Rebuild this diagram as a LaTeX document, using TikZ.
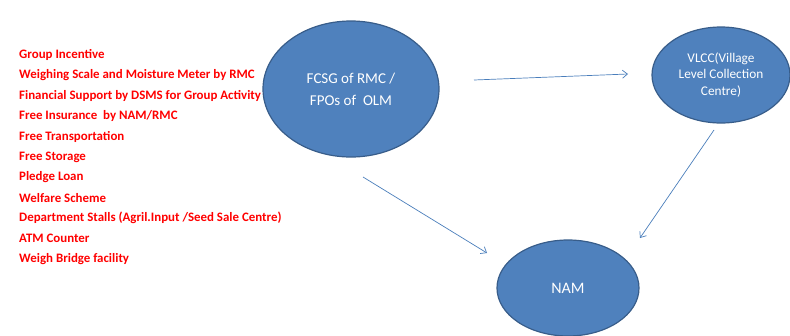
\documentclass[tikz,border=0pt]{standalone}
\usepackage{fontspec}
\setmainfont{Carlito}
\usetikzlibrary{shapes.geometric,arrows.meta}
\definecolor{ellfill}{HTML}{4F81BD}
\definecolor{elldraw}{HTML}{385D8A}
\definecolor{arrcol}{HTML}{4A7EBB}
\definecolor{listred}{HTML}{FF0000}
\tikzset{
  blob/.style={ellipse, fill=ellfill, draw=elldraw, line width=1.2pt, text=white, inner sep=0pt, align=center},
  conn/.style={draw=arrcol, line width=0.7pt, -{Straight Barb[length=5pt,width=8pt]}},
  item/.style={anchor=west, text=listred, font=\bfseries\fontsize{12.9}{15}\selectfont, inner sep=0pt}
}
\begin{document}
\begin{tikzpicture}[x=1pt,y=-1pt]
\useasboundingbox (0,0) rectangle (790,335);
\node[blob, minimum width=176pt, minimum height=136pt, font=\fontsize{15}{22}\selectfont] (fcsg) at (351,89) {FCSG of RMC /\\FPOs of\ \ OLM};
\node[blob, minimum width=138pt, minimum height=96pt, font=\fontsize{13.3}{16.5}\selectfont] (vlcc) at (721,75) {VLCC(Village\\Level Collection\\Centre)};
\node[blob, minimum width=142pt, minimum height=96pt, font=\fontsize{16}{19}\selectfont] (nam) at (568,288) {NAM};
\coordinate (a1s) at (474,80);
\coordinate (a1e) at (628,74);
\coordinate (a2s) at (363,177);
\coordinate (a2e) at (487,253);
\coordinate (a3s) at (714,130);
\coordinate (a3e) at (640,238);
\draw[conn] (a1s) -- (a1e);
\draw[conn] (a2s) -- (a2e);
\draw[conn] (a3s) -- (a3e);
\node[item] (l1) at (19,55) {Group Incentive};
\node[item] (l2) at (19,75.4) {Weighing Scale and Moisture Meter by RMC};
\node[item] (l3) at (19,95.8) {Financial Support by DSMS for Group Activity};
\node[item] (l4) at (19,116.2) {Free Insurance\ \ by NAM/RMC};
\node[item] (l5) at (19,136.6) {Free Transportation};
\node[item] (l6) at (19,157) {Free Storage};
\node[item] (l7) at (19,177.4) {Pledge Loan};
\node[item] (l8) at (19,197.8) {Welfare Scheme};
\node[item] (l9) at (19,218.2) {Department Stalls (Agril.Input /Seed Sale Centre)};
\node[item] (l10) at (19,238.6) {ATM Counter};
\node[item] (l11) at (19,259) {Weigh Bridge facility};
\end{tikzpicture}
\end{document}
